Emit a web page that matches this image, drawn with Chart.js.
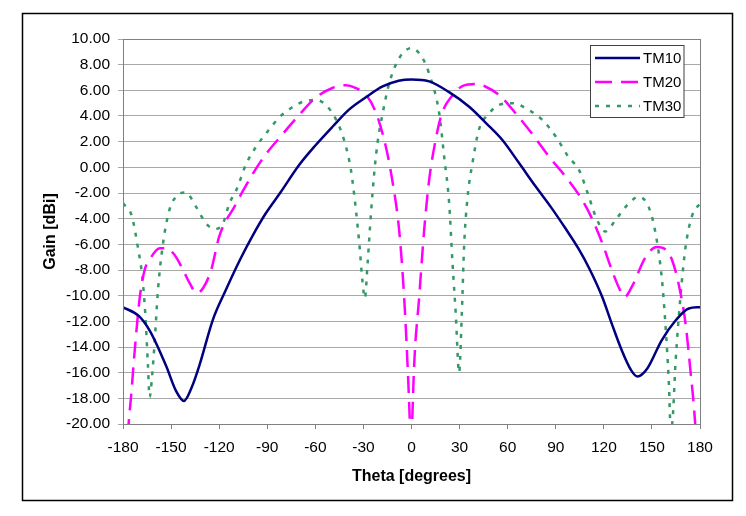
<!DOCTYPE html>
<html>
<head>
<meta charset="utf-8">
<script src="https://cdn.jsdelivr.net/npm/chart.js@4"></script>
<style>
  html, body { margin: 0; padding: 0; background: #fff; }
  #wrap { width: 746px; height: 516px; position: relative; }
</style>
</head>
<body>
<div id="wrap"><canvas id="chartGain"></canvas></div>
<script>
// values
const tm10Theta = [-180,-170,-163,-153,-147,-142,-137,-132,-124,-116,-107,-99,-91,-82,-70,-60,-49,-39,-28,-18,-8,0,11,23,36,46.5,56.7,67,77.5,87,96,104,111,119,125,131,137,141,147,156,165,173,180];
const tm10Gain  = [-10.9,-11.6,-12.8,-15.5,-17.4,-18.2,-17.1,-15.3,-11.9,-9.6,-7.2,-5.3,-3.6,-2.0,0.2,1.7,3.2,4.5,5.5,6.3,6.75,6.85,6.7,5.9,4.72,3.45,2.13,0.35,-1.5,-3.1,-4.75,-6.3,-7.9,-10.1,-12.2,-14.2,-15.8,-16.3,-15.7,-13.5,-11.9,-11.0,-10.9];

const tm20Theta = [-179,-176.5,-175,-172.5,-169.5,-166.5,-163,-157,-153,-148,-142.5,-138.5,-134,-130,-125,-120,-115.5,-111.5,-105,-97,-91,-80,-70,-60,-49,-41,-35,-28,-22,-16,-12,-7.7,-4.6,-2.5,-1,-0.3,0.4,1.7,4.8,7.9,11,15,19,25.5,32,40,46,55,65,75,86,96,106.5,113,119,125,129.5,133,137.5,146,153,158.5,162.5,166.5,171,174,177,179];
const tm20Gain  = [-25,-20,-17.9,-14,-10.1,-8,-7.1,-6.3,-6.3,-6.8,-8,-9,-9.8,-9.4,-8,-5.4,-4.1,-3.3,-1.8,-0.1,1.0,2.65,4.1,5.4,6.2,6.4,6.2,5.6,4.2,1.6,-1.0,-4.9,-10.1,-15.3,-20,-23,-20,-15.3,-10.1,-4.9,-1.0,2.1,4.2,5.6,6.35,6.5,6.3,5.6,4.2,2.65,0.8,-0.7,-2.55,-4.1,-5.9,-8.0,-9.4,-10.1,-9.3,-7.0,-6.2,-6.4,-7.2,-9.0,-12.2,-15.8,-20,-25];

const tm30Theta = [-180,-174.5,-170.5,-168,-166,-164.5,-163.4,-161.8,-160.3,-158.2,-155,-151,-147,-141,-134.3,-128,-123,-117.7,-113.6,-109.4,-103,-97,-90.7,-82.4,-76,-68,-59.6,-53.4,-47,-42,-37.8,-34.7,-32.6,-30.5,-29.1,-27.4,-25.3,-23.3,-21.2,-18,-14,-7.7,0,6.9,11,17.3,20.4,23.5,25.6,27.6,29.7,31.4,32.8,35,38,42,48.4,54.6,63,73,81.6,90,98,104.5,110.7,114.8,121,127.3,135.6,141.8,148,152.2,156.3,158.4,160.5,161.8,163,164.7,167.8,171,175,180];
const tm30Gain  = [-2.8,-3.8,-6.4,-8.5,-11.6,-15.3,-17.9,-16.2,-13.7,-9.6,-5.9,-3.3,-2.3,-1.95,-3.1,-4.4,-4.8,-4.4,-2.8,-1.8,0.3,1.6,2.65,3.9,4.55,5.1,5.25,4.86,3.7,2.1,-0.2,-3.3,-5.9,-9.0,-10.2,-7.5,-3.6,-0.5,1.9,4.2,6.5,8.5,9.3,8.5,7.3,4.2,0.8,-2.8,-7.5,-11.4,-16,-11.4,-6.2,-2.3,0.3,2.9,4.2,4.86,5.0,4.47,3.7,2.4,0.8,-0.2,-2.3,-3.8,-5.0,-4.1,-2.8,-2.3,-3.1,-5.1,-8.8,-12.2,-16.6,-20.5,-19.5,-15.3,-10.1,-6.2,-3.8,-2.8];

const seriesNames = ["TM10", "TM20", "TM30"];
const xTicks = [-180, -150, -120, -90, -60, -30, 0, 30, 60, 90, 120, 150, 180];

const FONT = "'Liberation Sans', Arial, sans-serif";
Chart.defaults.font.family = FONT;
Chart.defaults.color = "#000";

const pts = (xs, ys) => xs.map((x, i) => ({ x: x, y: ys[i] }));

const styles = [
    { color: "#000080", dash: [] },
    { color: "#ff00ff", dash: [17, 9] },
    { color: "#339966", dash: [4, 7] }
];

// frame, outer border and the legend box inside the plot
const decorations = {
    id: "decorations",
    afterDraw(chart) {
        const ctx = chart.ctx;
        const a = chart.chartArea;
        ctx.save();
        ctx.strokeStyle = "#808080";
        ctx.lineWidth = 1;
        ctx.strokeRect(Math.round(a.left) + 0.5, Math.round(a.top) + 0.5,
                       Math.round(a.right - a.left), Math.round(a.bottom - a.top));

        ctx.strokeStyle = "#000";
        ctx.lineWidth = 1.5;
        ctx.strokeRect(22.5, 13.5, 710, 487);

        // legend
        const lx = 590.5, ly = 45.5, lw = 93.5, lh = 72;
        ctx.fillStyle = "#fff";
        ctx.fillRect(lx, ly, lw, lh);
        ctx.strokeStyle = "#404040";
        ctx.lineWidth = 1;
        ctx.strokeRect(lx, ly, lw, lh);
        ctx.font = "15px " + FONT;
        ctx.textBaseline = "middle";
        chart.data.datasets.forEach((ds, i) => {
            const y = 58 + i * 24;
            ctx.strokeStyle = ds.borderColor;
            ctx.lineWidth = 2.5;
            ctx.setLineDash(ds.borderDash);
            ctx.beginPath();
            ctx.moveTo(595, y);
            ctx.lineTo(640, y);
            ctx.stroke();
            ctx.setLineDash([]);
            ctx.fillStyle = "#000";
            ctx.fillText(ds.label, 643, y + 1);
        });
        ctx.restore();
    }
};

const datasets = [
    pts(tm10Theta, tm10Gain),
    pts(tm20Theta, tm20Gain),
    pts(tm30Theta, tm30Gain)
].map((d, i) => ({
    label: seriesNames[i],
    data: d,
    borderColor: styles[i].color,
    backgroundColor: styles[i].color,
    borderDash: styles[i].dash,
    borderWidth: 2.5,
    pointRadius: 0,
    cubicInterpolationMode: "monotone",
    fill: false
}));

new Chart(document.getElementById("chartGain"), {
    type: "line",
    data: { datasets: datasets },
    plugins: [decorations],
    options: {
        responsive: true,
        maintainAspectRatio: false,
        animation: false,
        layout: { padding: { top: 39, right: 46, left: 0, bottom: 0 } },
        plugins: {
            legend: { display: false },
            tooltip: { enabled: false }
        },
        scales: {
            x: {
                type: "linear",
                min: -180,
                max: 180,
                afterBuildTicks: s => { s.ticks = xTicks.map(v => ({ value: v })); },
                afterFit: s => { s.height = 92; },
                ticks: { font: { size: 15.5 }, color: "#000", padding: 9, maxRotation: 0 },
                grid: { drawOnChartArea: false, drawTicks: true, tickLength: 5, color: "#808080" },
                border: { color: "#808080" },
                title: {
                    display: true,
                    text: "Theta [degrees]",
                    font: { size: 16, weight: "bold" },
                    color: "#000",
                    padding: { top: 0, bottom: 30 }
                }
            },
            y: {
                min: -20,
                max: 10,
                afterFit: s => { s.width = 123; },
                ticks: {
                    stepSize: 2,
                    font: { size: 15.5 },
                    color: "#000",
                    padding: 8,
                    callback: v => v.toFixed(2)
                },
                grid: { color: "#a8a8a8", tickLength: 5 },
                border: { color: "#808080" },
                title: {
                    display: true,
                    text: "Gain [dBi]",
                    font: { size: 16, weight: "bold" },
                    color: "#000",
                    padding: { top: 41, bottom: 0 }
                }
            }
        }
    }
});
</script>
</body>
</html>
